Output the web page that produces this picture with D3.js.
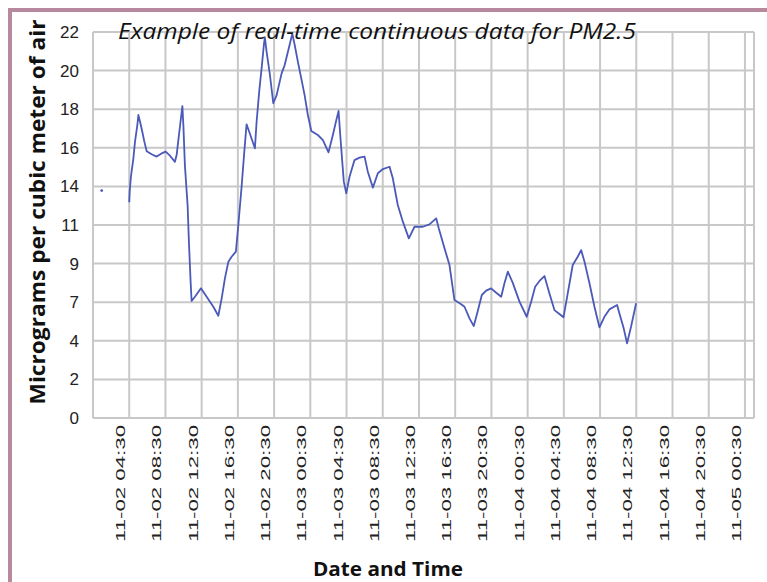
<!DOCTYPE html>
<html lang="en">
<head>
  <meta charset="UTF-8">
  <title>PM2.5 real-time continuous data</title>
  <script src="https://d3js.org/d3.v7.min.js"></script>
  <style>
    body { margin: 0; background: #fff; }
    svg { display: block; }
    .grid line { stroke: #c8c8c8; stroke-width: 2; }
  </style>
</head>
<body>
  <script>
    // Hours after 11-02 00:30, and PM2.5 readings (null = gap in record)
    const hours = [0.96, 2.5,
      4.0, 4.05, 4.19, 4.46, 4.64, 4.9, 5.01, 5.19, 5.45, 5.67, 5.93, 6.48, 7.03, 7.58, 8.02, 8.5,
      9.05, 9.24, 9.43, 9.6, 9.87, 9.98, 10.15, 10.45, 10.6, 10.78, 10.89, 11.26, 11.92, 12.55,
      13.29, 13.84, 14.21, 14.57, 14.95, 15.31, 15.78, 16.05, 16.41, 16.71, 16.96, 17.33, 17.88,
      18.07, 18.37, 18.62, 18.87, 18.98, 19.17, 19.54, 19.91, 20.28, 20.83, 21.16, 21.71, 22.01,
      22.26, 22.63, 23.0, 23.37, 23.73, 24.11, 24.83, 25.39, 26.01, 26.49, 26.87, 27.12, 27.31,
      27.53, 27.7, 27.97, 28.33, 28.88, 29.43, 29.99, 30.35, 30.91, 31.46, 32.01, 32.75, 33.11,
      33.66, 34.22, 34.88, 35.51, 36.42, 37.16, 37.9, 38.19, 38.82, 39.37, 39.92, 40.66, 41.03,
      41.58, 42.05, 42.43, 42.94, 43.42, 43.97, 44.53, 45.08, 45.44, 45.81, 46.36, 47.1, 47.9,
      48.39, 48.83, 49.31, 49.86, 50.41, 50.96, 51.51, 51.96, 52.43, 52.98, 53.53, 53.91, 54.28,
      54.83, 55.38, 55.93, 56.48, 57.03, 57.88, 58.13, 58.61, 58.98, 59.42, 59.98];
    const pm25 = [12.96, null,
      12.3, 12.9, 13.75, 14.8, 15.75, 16.7, 17.27, 16.9, 16.3, 15.75, 15.2, 15.03, 14.9, 15.08, 15.18, 14.95,
      14.6, 15.0, 15.85, 16.6, 17.78, 16.7, 14.4, 12.1, 9.95, 7.77, 6.67, 6.91, 7.39, 6.91,
      6.34, 5.83, 6.82, 7.96, 8.91, 9.19, 9.48, 11.0, 13.18, 15.18, 16.74, 16.2, 15.37,
      16.9, 18.69, 19.93, 21.26, 21.7, 20.88, 19.55, 17.94, 18.4, 19.64, 20.1, 21.26, 21.9,
      21.3, 20.3, 19.36, 18.4, 17.27, 16.36, 16.13, 15.84, 15.14, 16.13, 16.98, 17.5, 16.1,
      14.6, 13.47, 12.8, 13.75, 14.7, 14.84, 14.9, 14.04, 13.13, 13.95, 14.19, 14.32, 13.66,
      12.14, 11.19, 10.24, 10.9, 10.9, 11.04, 11.38, 10.8, 9.67, 8.72, 6.72, 6.48, 6.34,
      5.68, 5.24, 5.97, 7.01, 7.26, 7.39, 7.14, 6.91, 7.68, 8.34, 7.7, 6.63, 5.77,
      6.63, 7.48, 7.81, 8.09, 7.1, 6.15, 5.93, 5.74, 7.1, 8.72, 9.19, 9.57, 8.91,
      7.68, 6.34, 5.17, 5.77, 6.19, 6.44, 5.97, 5.11, 4.26, 5.2, 6.54];

    const xTickHours = [4, 8, 12, 16, 20, 24, 28, 32, 36, 40, 44, 48, 52, 56, 60, 64, 68, 72];
    const xTickLabels = ["11-02 04:30", "11-02 08:30", "11-02 12:30", "11-02 16:30", "11-02 20:30",
      "11-03 00:30", "11-03 04:30", "11-03 08:30", "11-03 12:30", "11-03 16:30", "11-03 20:30",
      "11-04 00:30", "11-04 04:30", "11-04 08:30", "11-04 12:30", "11-04 16:30", "11-04 20:30",
      "11-05 00:30"];
    const yTickLabels = ["0", "2", "4", "7", "9", "11", "14", "16", "18", "20", "22"];

    const W = 767, H = 582;
    const plot = { left: 93, right: 754, top: 32, bottom: 418 };

    const svg = d3.select("body").append("svg").attr("width", W).attr("height", H);

    // outer frame (only the top and left edges are inside the picture)
    svg.append("path")
      .attr("d", `M10,${H + 5}V10H${W + 5}`)
      .attr("fill", "none")
      .attr("stroke", "#b8889f")
      .attr("stroke-width", 4);

    const x = d3.scaleLinear().domain([0, 73]).range([plot.left, plot.right]);
    const yTicks = d3.range(yTickLabels.length).map(i => i * 2.2);
    const y = d3.scaleLinear().domain([0, 22]).range([plot.bottom, plot.top]);

    // gridlines
    const grid = svg.append("g").attr("class", "grid");
    grid.selectAll(".h").data(yTicks).join("line")
      .attr("x1", plot.left).attr("x2", plot.right)
      .attr("y1", d => y(d)).attr("y2", d => y(d));
    grid.selectAll(".v").data([0, ...xTickHours, 73]).join("line")
      .attr("x1", d => x(d)).attr("x2", d => x(d))
      .attr("y1", plot.top).attr("y2", plot.bottom);

    // y axis labels
    const yAxis = svg.append("g")
      .attr("transform", `translate(${plot.left},0)`)
      .call(d3.axisLeft(y).tickValues(yTicks).tickSize(0).tickPadding(14)
        .tickFormat((d, i) => yTickLabels[i]));
    yAxis.select(".domain").remove();
    yAxis.selectAll("text")
      .attr("font-family", "'Liberation Sans', Arial, sans-serif")
      .attr("font-size", 17)
      .attr("fill", "#222");

    // x axis labels, rotated
    const xAxis = svg.append("g")
      .attr("transform", `translate(0,${plot.bottom})`)
      .call(d3.axisBottom(x).tickValues(xTickHours).tickSize(0)
        .tickFormat((d, i) => xTickLabels[i]));
    xAxis.select(".domain").remove();
    xAxis.selectAll("text")
      .attr("font-family", "'Liberation Sans', Arial, sans-serif")
      .attr("font-size", 13.5)
      .attr("fill", "#222")
      .attr("text-anchor", "end")
      .attr("x", 0).attr("y", 0).attr("dy", 0)
      .attr("textLength", 117)
      .attr("lengthAdjust", "spacingAndGlyphs")
      .attr("transform", "translate(-4.5,7) rotate(-90)");

    // the PM2.5 series
    const data = hours.map((h, i) => ({ h, v: pm25[i] }));
    const line = d3.line().defined(d => d.v != null).x(d => x(d.h)).y(d => y(d.v));
    svg.append("path")
      .datum(data)
      .attr("fill", "none")
      .attr("stroke", "#4b59b8")
      .attr("stroke-width", 1.8)
      .attr("stroke-linejoin", "round")
      .attr("d", line);

    // lone readings with no neighbours
    const lone = data.filter((d, i) => d.v != null &&
      (i === 0 || data[i - 1].v == null) && (i === data.length - 1 || data[i + 1].v == null));
    svg.selectAll(".lone").data(lone).join("circle")
      .attr("cx", d => x(d.h)).attr("cy", d => y(d.v))
      .attr("r", 1.4).attr("fill", "#4b59b8");

    // titles
    svg.append("text")
      .attr("x", 118).attr("y", 39)
      .attr("font-family", "'Open Sans', sans-serif")
      .attr("font-style", "italic")
      .attr("font-size", 21)
      .attr("fill", "#111")
      .attr("textLength", 518)
      .attr("lengthAdjust", "spacingAndGlyphs")
      .text("Example of real-time continuous data for PM2.5");

    svg.append("text")
      .attr("transform", "translate(45,212) rotate(-90)")
      .attr("text-anchor", "middle")
      .attr("font-family", "'Open Sans', sans-serif")
      .attr("font-weight", "bold")
      .attr("font-size", 21)
      .attr("fill", "#111")
      .attr("textLength", 385)
      .attr("lengthAdjust", "spacingAndGlyphs")
      .text("Micrograms per cubic meter of air");

    svg.append("text")
      .attr("x", 388).attr("y", 576)
      .attr("text-anchor", "middle")
      .attr("font-family", "'Open Sans', sans-serif")
      .attr("font-weight", "bold")
      .attr("font-size", 20)
      .attr("fill", "#111")
      .attr("textLength", 150)
      .attr("lengthAdjust", "spacingAndGlyphs")
      .text("Date and Time");
  </script>
</body>
</html>
